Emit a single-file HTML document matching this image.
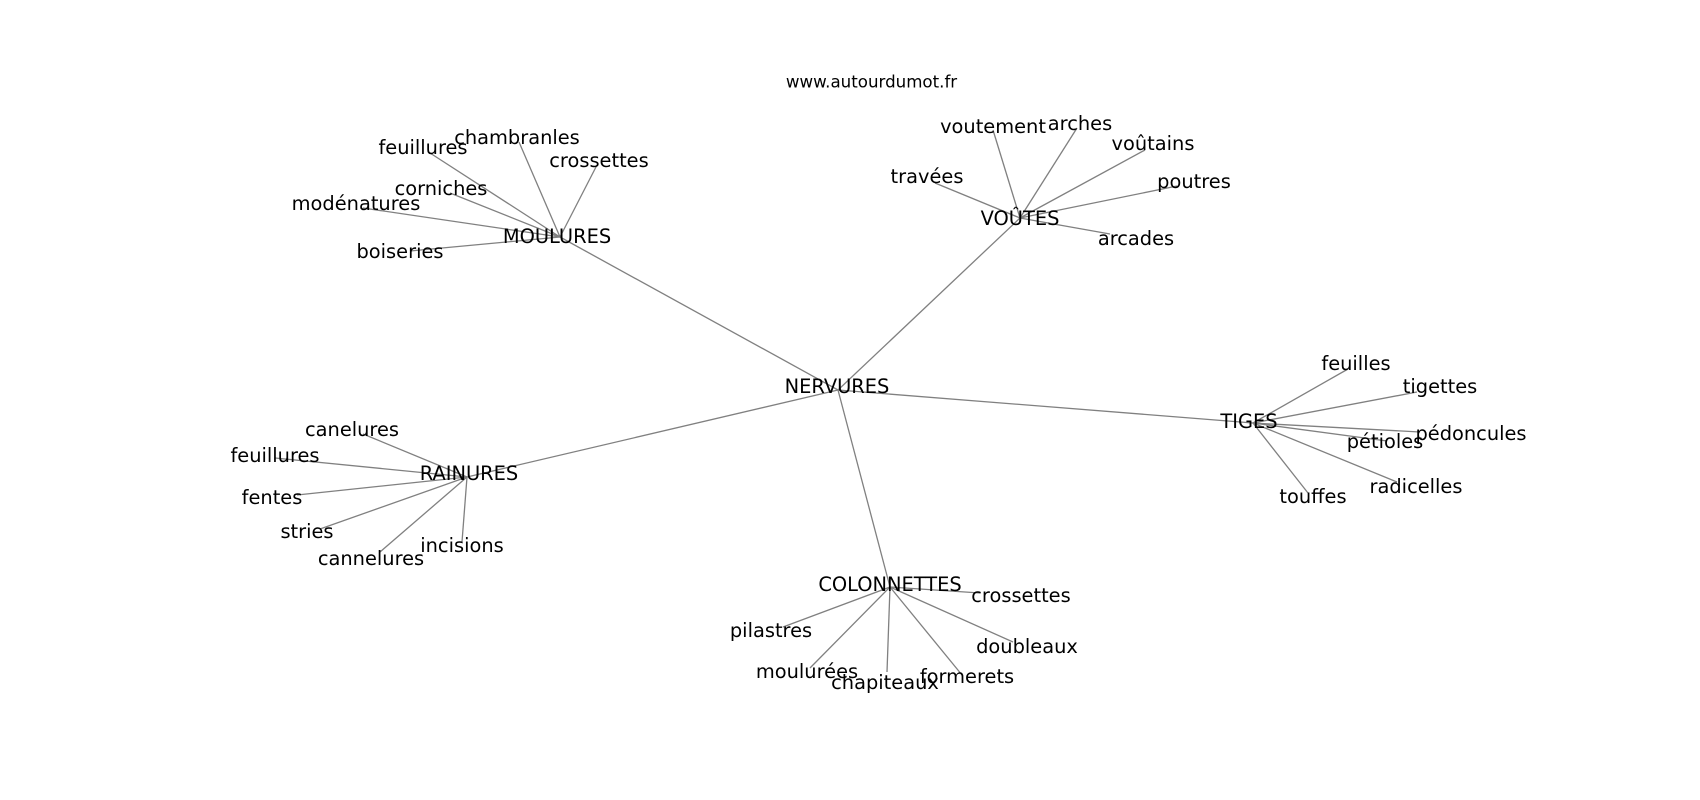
<!DOCTYPE html>
<html>
<head>
<meta charset="utf-8">
<style>
html,body{margin:0;padding:0;background:#fff;}
svg{display:block;}
text{font-family:"DejaVu Sans","Liberation Sans",sans-serif;fill:#000;}
.l{font-size:19.4px;}
.t{font-size:16.67px;}
line{stroke:#808080;stroke-width:1.3;}
</style>
</head>
<body>
<svg width="1700" height="800" viewBox="0 0 1700 800" xmlns="http://www.w3.org/2000/svg">
<rect width="1700" height="800" fill="#fff"/>
<g>
<!-- hub edges -->
<line x1="838" y1="390" x2="560" y2="237"/>
<line x1="838" y1="390" x2="1020" y2="218"/>
<line x1="838" y1="390" x2="1253" y2="423"/>
<line x1="838" y1="390" x2="467" y2="477"/>
<line x1="838" y1="390" x2="890" y2="587"/>
<!-- MOULURES -->
<line x1="560" y1="237" x2="430" y2="153"/>
<line x1="560" y1="237" x2="519" y2="142"/>
<line x1="560" y1="237" x2="597" y2="165"/>
<line x1="560" y1="237" x2="450" y2="193"/>
<line x1="560" y1="237" x2="363" y2="208"/>
<line x1="560" y1="237" x2="410" y2="251"/>
<!-- VOUTES -->
<line x1="1020" y1="218" x2="993" y2="130"/>
<line x1="1020" y1="218" x2="1077" y2="128"/>
<line x1="1020" y1="218" x2="1145" y2="150"/>
<line x1="1020" y1="218" x2="1177" y2="186"/>
<line x1="1020" y1="218" x2="935" y2="183"/>
<line x1="1020" y1="218" x2="1110" y2="234"/>
<!-- TIGES -->
<line x1="1253" y1="423" x2="1348" y2="369"/>
<line x1="1253" y1="423" x2="1417" y2="392"/>
<line x1="1253" y1="423" x2="1420" y2="432"/>
<line x1="1253" y1="423" x2="1387" y2="441"/>
<line x1="1253" y1="423" x2="1397" y2="482"/>
<line x1="1253" y1="423" x2="1308" y2="493"/>
<!-- RAINURES -->
<line x1="467" y1="477" x2="363" y2="434"/>
<line x1="467" y1="477" x2="275" y2="458"/>
<line x1="467" y1="477" x2="297" y2="495"/>
<line x1="467" y1="477" x2="320" y2="529"/>
<line x1="467" y1="477" x2="380" y2="552"/>
<line x1="467" y1="477" x2="462" y2="542"/>
<!-- COLONNETTES -->
<line x1="890" y1="587" x2="980" y2="593"/>
<line x1="890" y1="587" x2="783" y2="627"/>
<line x1="890" y1="587" x2="810" y2="668"/>
<line x1="890" y1="587" x2="887" y2="672"/>
<line x1="890" y1="587" x2="962" y2="675"/>
<line x1="890" y1="587" x2="1013" y2="642"/>
</g>

<text class="t" x="871.5" y="87.5" text-anchor="middle">www.autourdumot.fr</text>

<g class="l" text-anchor="middle">
<text class="l" x="837" y="393">NERVURES</text>
<text class="l" x="557" y="243">MOULURES</text>
<text class="l" x="1020" y="225">VOÛTES</text>
<text class="l" x="1249" y="428">TIGES</text>
<text class="l" x="469" y="480">RAINURES</text>
<text class="l" x="890" y="591">COLONNETTES</text>

<text class="l" x="423" y="154">feuillures</text>
<text class="l" x="517" y="144">chambranles</text>
<text class="l" x="599" y="167">crossettes</text>
<text class="l" x="441" y="195">corniches</text>
<text class="l" x="356" y="210">modénatures</text>
<text class="l" x="400" y="258">boiseries</text>

<text class="l" x="993" y="133">voutement</text>
<text class="l" x="1080" y="130">arches</text>
<text class="l" x="1153" y="150">voûtains</text>
<text class="l" x="1194" y="188">poutres</text>
<text class="l" x="927" y="183">travées</text>
<text class="l" x="1136" y="245">arcades</text>

<text class="l" x="1356" y="370">feuilles</text>
<text class="l" x="1440" y="393">tigettes</text>
<text class="l" x="1471" y="440">pédoncules</text>
<text class="l" x="1385" y="448">pétioles</text>
<text class="l" x="1416" y="493">radicelles</text>
<text class="l" x="1313" y="503">touffes</text>

<text class="l" x="352" y="436">canelures</text>
<text class="l" x="275" y="462">feuillures</text>
<text class="l" x="272" y="504">fentes</text>
<text class="l" x="307" y="538">stries</text>
<text class="l" x="371" y="565">cannelures</text>
<text class="l" x="462" y="552">incisions</text>

<text class="l" x="1021" y="602">crossettes</text>
<text class="l" x="771" y="637">pilastres</text>
<text class="l" x="807" y="678">moulurées</text>
<text class="l" x="885" y="689">chapiteaux</text>
<text class="l" x="967" y="683">formerets</text>
<text class="l" x="1027" y="653">doubleaux</text>
</g>
</svg>
</body>
</html>
